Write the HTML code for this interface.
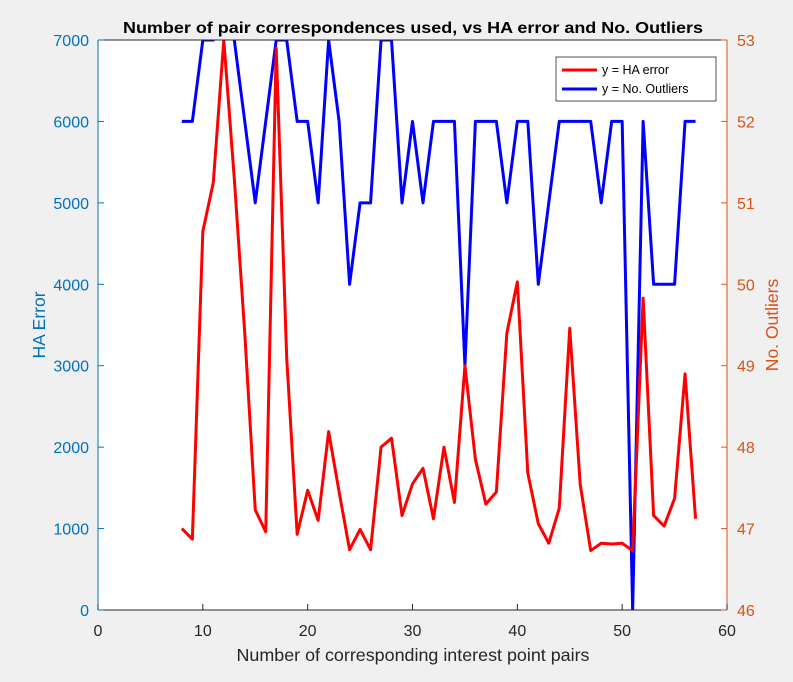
<!DOCTYPE html>
<html><head><meta charset="utf-8"><style>
body{margin:0;background:#f0f0f0;font-family:"Liberation Sans",sans-serif}
</style></head><body>
<svg width="793" height="677" xmlns="http://www.w3.org/2000/svg" id="chart" font-family="Liberation Sans, sans-serif">
<rect x="98" y="40" width="629" height="570" fill="#fff"/>
<g id="marks"></g>
<g id="axes"></g>
<text x="413" y="33" text-anchor="middle" font-size="16" font-weight="bold" textLength="580" lengthAdjust="spacingAndGlyphs">Number of pair correspondences used, vs HA error and No. Outliers</text>
<text x="413" y="661" text-anchor="middle" font-size="17.5" fill="#262626" textLength="353" lengthAdjust="spacingAndGlyphs">Number of corresponding interest point pairs</text>
<text transform="translate(45,325) rotate(-90)" text-anchor="middle" font-size="17.5" fill="#0072BD">HA Error</text>
<text transform="translate(778,325) rotate(-90)" text-anchor="middle" font-size="17.5" fill="#D95319">No. Outliers</text>
<g>
<rect x="556" y="57" width="160" height="44" fill="#fff" stroke="#262626" stroke-width="0.8"/>
<line x1="562" y1="70" x2="597" y2="70" stroke="#f00" stroke-width="3"/>
<text x="602" y="74" font-size="12.5">y = HA error</text>
<line x1="562" y1="89" x2="597" y2="89" stroke="#00f" stroke-width="3"/>
<text x="602" y="93" font-size="12.5">y = No. Outliers</text>
</g>
</svg>
<script>
const xs=[8,9,10,11,12,13,14,15,16,17,18,19,20,21,22,23,24,25,26,27,28,29,30,31,32,33,34,35,36,37,38,39,40,41,42,43,44,45,46,47,48,49,50,51,52,53,54,55,56,57];
const haError=[1000,870,4650,5250,7000,5300,3400,1230,960,6900,3100,930,1470,1100,2190,1450,740,990,740,2000,2110,1160,1550,1740,1120,2000,1320,3000,1850,1300,1450,3400,4030,1680,1060,820,1250,3460,1540,730,820,810,820,730,3830,1160,1030,1370,2900,1120];
const outliers=[52,52,53,53,54,53,52,51,52,53,53,52,52,51,53,52,50,51,51,53,53,51,52,51,52,52,52,49,52,52,52,51,52,52,50,51,52,52,52,52,51,52,52,46,52,50,50,50,52,52];
const xTicks=[0,10,20,30,40,50,60];
const lTicks=[0,1000,2000,3000,4000,5000,6000,7000];
const rTicks=[46,47,48,49,50,51,52,53];
const X=v=>98+v*629/60, YL=v=>610-v*570/7000, YR=v=>610-(v-46)*570/7;
const NS="http://www.w3.org/2000/svg";
const svg=document.getElementById('chart');
let defs=document.createElementNS(NS,'defs');
defs.innerHTML='<clipPath id="clip"><rect x="98" y="40" width="629" height="570"/></clipPath>';
svg.prepend(defs);
const marks=document.getElementById('marks');marks.setAttribute('clip-path','url(#clip)');
function line(vals,yf,color,name){const p=document.createElementNS(NS,'polyline');
p.setAttribute('points',vals.map((v,i)=>X(xs[i])+','+yf(v)).join(' '));
p.setAttribute('fill','none');p.setAttribute('stroke',color);p.setAttribute('stroke-width','3');p.setAttribute('stroke-linejoin','round');


marks.appendChild(p);}
line(outliers,YR,'#00f','outliers-line');
line(haError,YL,'#f00','ha-error-line');
const ax=document.getElementById('axes');
function el(tag,a,txt){const e=document.createElementNS(NS,tag);for(const k in a)e.setAttribute(k,a[k]);if(txt!=null)e.textContent=txt;ax.appendChild(e);return e;}
let b=el('path',{d:'M98 40H727M98 610H727',stroke:'#262626',fill:'none'});


let la=el('line',{x1:98,y1:40,x2:98,y2:610,stroke:'#0072BD'});


let ra=el('line',{x1:727,y1:40,x2:727,y2:610,stroke:'#D95319'});


xTicks.forEach(t=>{el('line',{x1:X(t),x2:X(t),y1:610,y2:604,stroke:'#262626'});
const e=el('text',{x:X(t),y:636,'text-anchor':'middle','font-size':16,fill:'#262626'},t);

});
lTicks.forEach(t=>{el('line',{x1:98,x2:104,y1:YL(t),y2:YL(t),stroke:'#0072BD'});
const e=el('text',{x:89,y:YL(t)+6,'text-anchor':'end','font-size':16,fill:'#0072BD'},t);

});
rTicks.forEach(t=>{el('line',{x1:721,x2:727,y1:YR(t),y2:YR(t),stroke:'#D95319'});
const e=el('text',{x:737,y:YR(t)+6,'font-size':16,fill:'#D95319'},t);

});
</script>
</body></html>
